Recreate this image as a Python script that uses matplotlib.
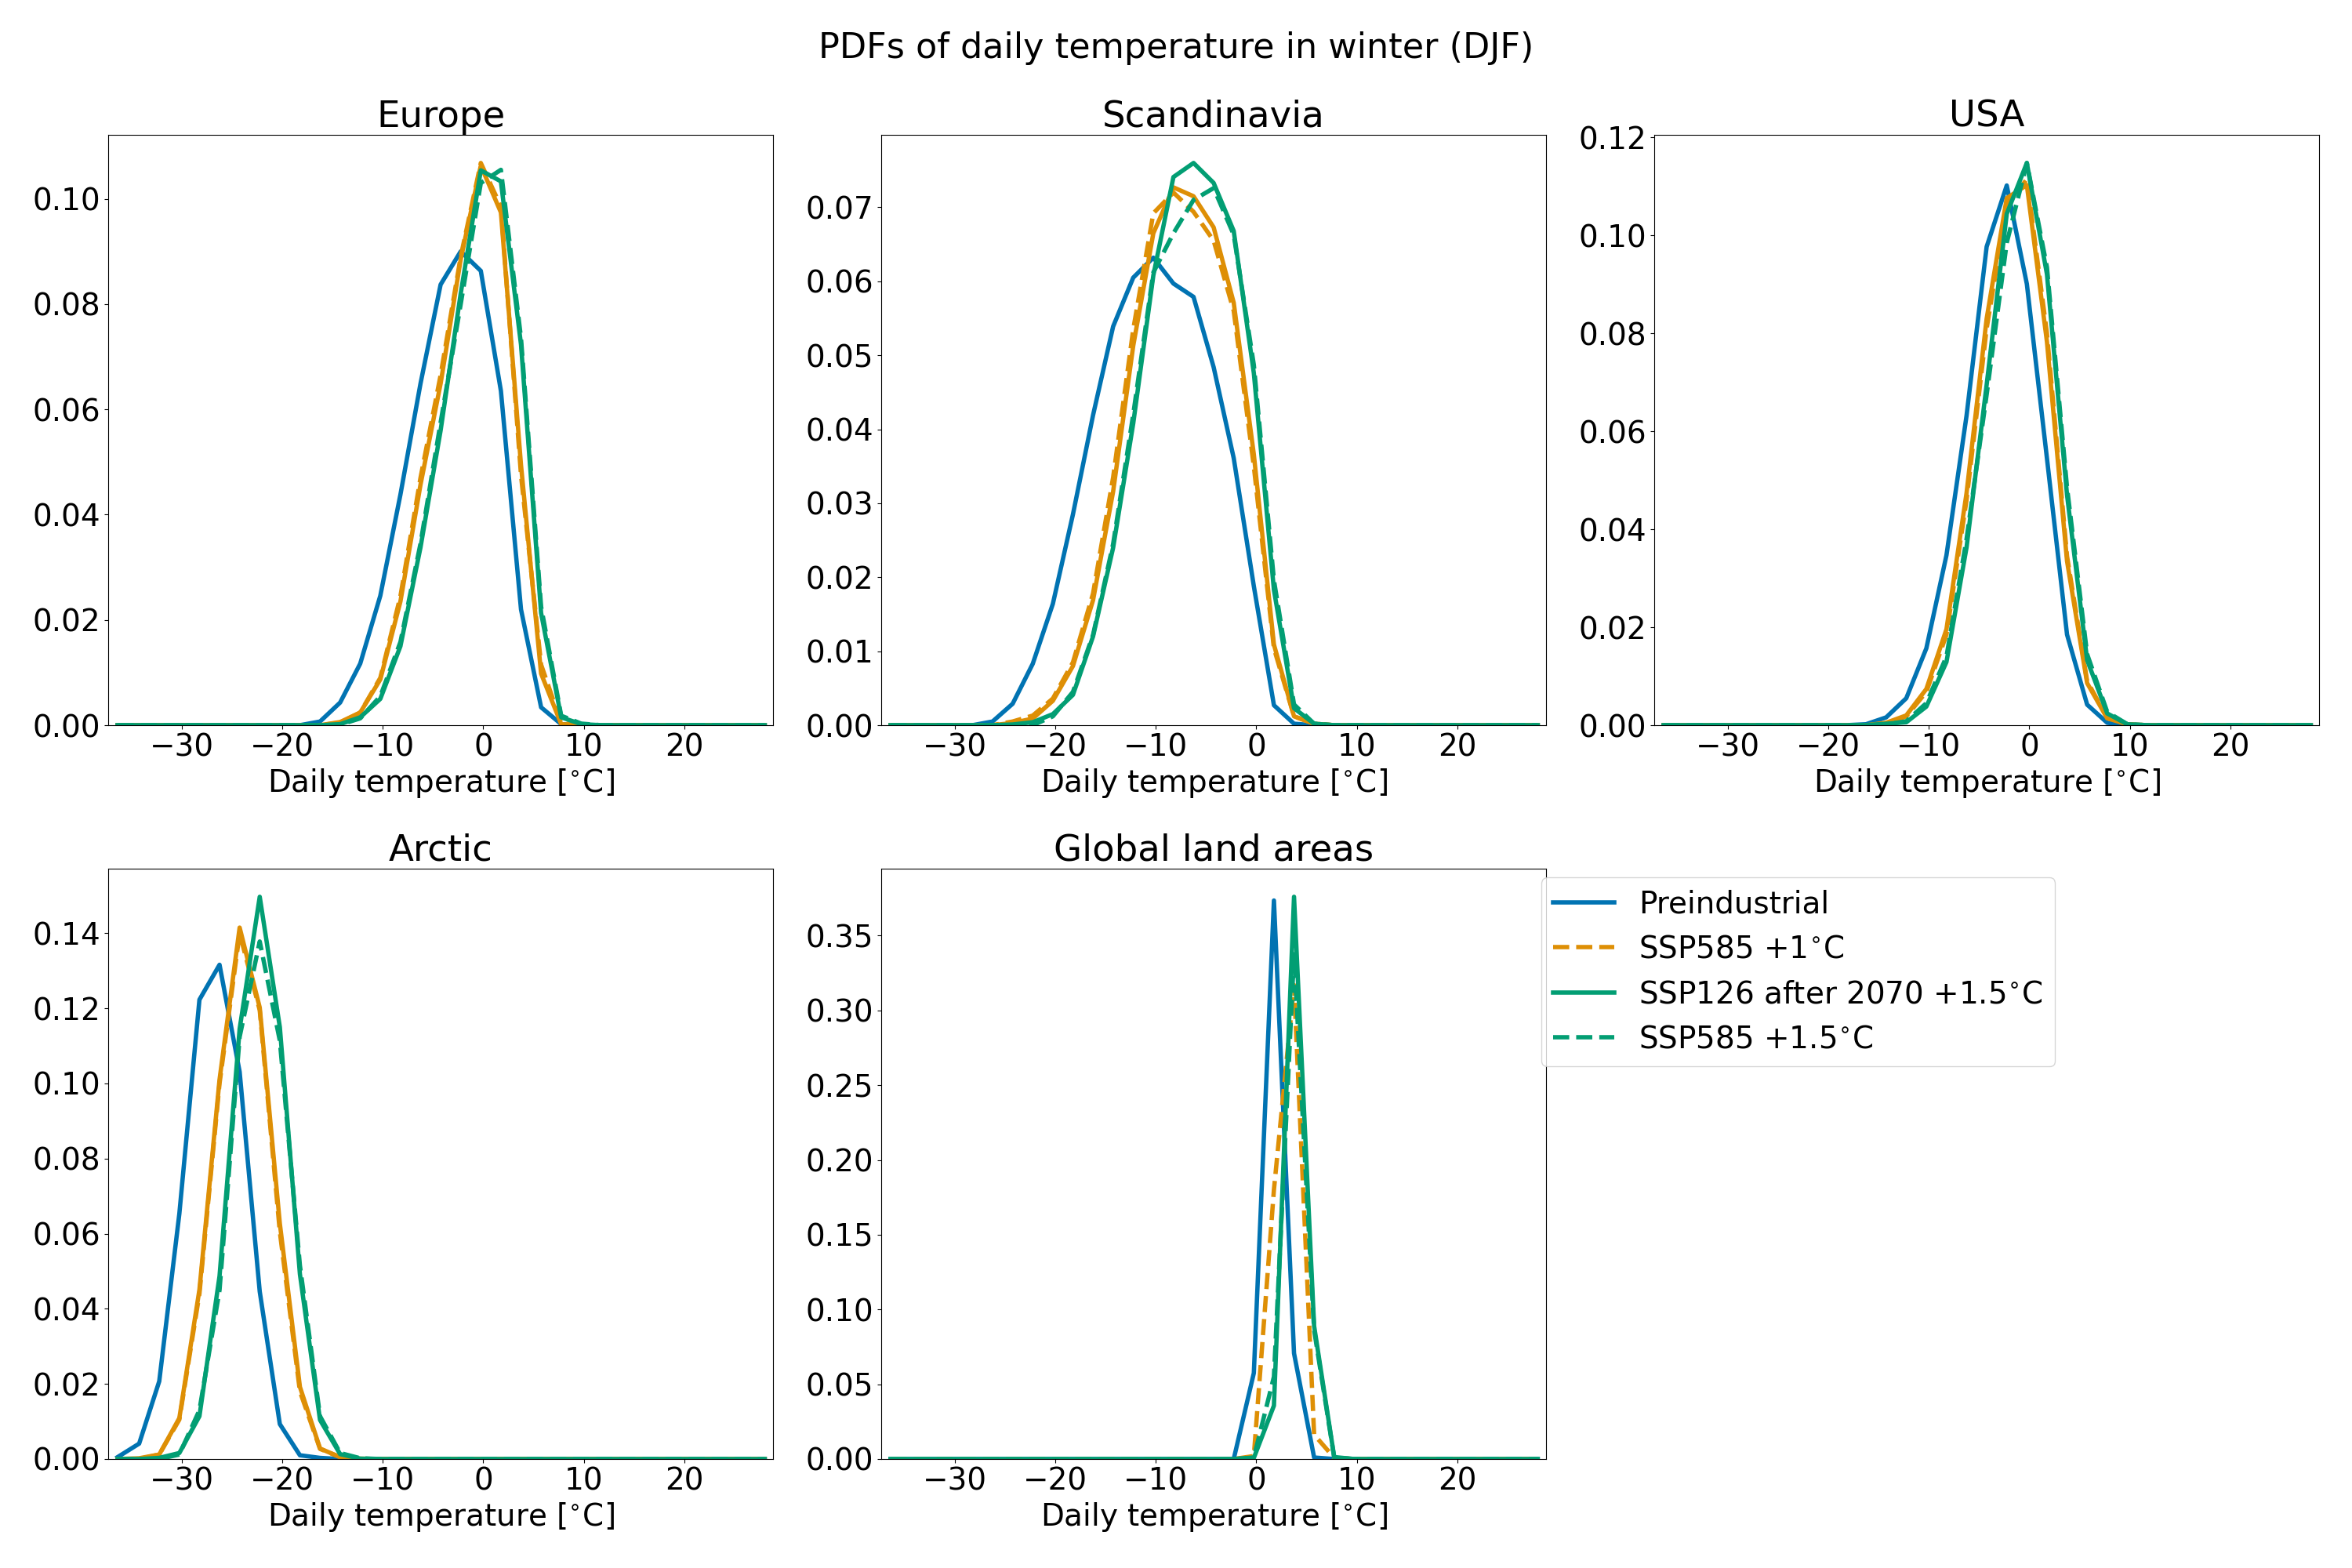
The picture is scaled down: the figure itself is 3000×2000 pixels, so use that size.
import numpy as np
import matplotlib
matplotlib.use('Agg')
import matplotlib.pyplot as plt

plt.rcParams['font.size'] = 28

# temperature bin centres, every 2 degrees
x_bins = [-36.4, -34.25, -32.25, -30.25, -28.25, -26.25, -24.25, -22.25, -20.25, -18.25, -16.25,
          -14.25, -12.25, -10.25, -8.25, -6.25, -4.25, -2.25, -0.25, 1.75, 3.75, 5.75, 7.75, 9.75,
          11.75, 13.75, 15.75, 17.75, 19.75, 21.75, 23.75, 25.75, 28.0]

# each series: first bin that is not zero, then the values read from the picture
eu_pre = (-16.25, [.0007, .0043, .0117, .0246, .0438, .0649, .0837, .0900, .0863, .0635, .0220, .0034, .0002])
eu_585_1 = (-14.25, [.0005, .0024, .0090, .0245, .0470, .0665, .0890, .1068, .0985, .0475, .0115, .0004])
eu_126_1 = (-14.25, [.0006, .0024, .0087, .0235, .0457, .0649, .0885, .1063, .0974, .0494, .0098, .0002])
eu_126_15 = (-14.25, [.0002, .0015, .0050, .0150, .0338, .0560, .0820, .1054, .1033, .0723, .0213, .0015, .0002])
eu_585_15 = (-14.25, [.0001, .0013, .0055, .0158, .0345, .0575, .0800, .1030, .1055, .0735, .0225, .0018, .0003])

sc_pre = (-26.25, [.0005, .0029, .0083, .0164, .0285, .0419, .0539, .0605, .0632, .0597, .0579, .0484, .0361, .0188, .0027, .0002])
sc_585_1 = (-24.25, [.0005, .0013, .0036, .0085, .0178, .0335, .0535, .0692, .0720, .0694, .0655, .0560, .0350, .0104, .0012, .0002])
sc_126_1 = (-24.25, [.0003, .0009, .0033, .0080, .0169, .0316, .0513, .0665, .0727, .0715, .0673, .0571, .0366, .0109, .0012, .0002])
sc_126_15 = (-24.25, [.0001, .0004, .0015, .0041, .0120, .0240, .0408, .0608, .0741, .0760, .0733, .0668, .0476, .0183, .0023, .0002])
sc_585_15 = (-20.25, [.0012, .0045, .0122, .0245, .0420, .0612, .0665, .0710, .0726, .0663, .0487, .0196, .0028, .0002])

us_pre = (-16.25, [.0002, .0016, .0055, .0157, .0347, .0632, .0977, .1102, .0901, .0545, .0185, .0042, .0005])
us_585_1 = (-14.25, [.0004, .0018, .0068, .0185, .0460, .0810, .1060, .1115, .0800, .0345, .0090, .0015, .0002])
us_126_1 = (-14.25, [.0005, .0020, .0074, .0196, .0474, .0830, .1076, .1103, .0783, .0335, .0086, .0014, .0002])
us_126_15 = (-14.25, [.0003, .0006, .0038, .0129, .0363, .0695, .1044, .1148, .0921, .0470, .0133, .0024, .0002])
us_585_15 = (-14.25, [.0002, .0008, .0045, .0140, .0380, .0675, .0985, .1148, .0935, .0485, .0145, .0027, .0002])

ar_pre = (-36.4, [.0005, .0041, .0207, .0653, .1223, .1316, .1031, .0446, .0093, .0010, .0003])
ar_585_1 = (-32.25, [.0012, .0105, .0440, .1000, .1400, .1195, .0605, .0180, .0027, .0005])
ar_126_1 = (-34.25, [.0002, .0012, .0109, .0451, .1010, .1415, .1202, .0627, .0192, .0028, .0005, .0001])
ar_126_15 = (-32.25, [.0003, .0016, .0114, .0487, .1145, .1497, .1150, .0492, .0104, .0013, .0001])
ar_585_15 = (-30.25, [.0012, .0130, .0450, .1124, .1378, .1114, .0515, .0114, .0016, .0002])

gl_pre = (-0.25, [.0575, .3735, .0707, .0010])
gl_585_1 = (-0.25, [.0020, .1800, .3170, .0163, .0008])
gl_126_15 = (-0.25, [.0007, .0357, .3760, .0889, .0013])
gl_585_15 = (-0.25, [.0010, .0550, .3376, .0863, .0010])

titles = ['Europe', 'Scandinavia', 'USA', 'Arctic', 'Global land areas']
panels = [
    [eu_pre, eu_585_1, eu_126_1, eu_126_15, eu_585_15],
    [sc_pre, sc_585_1, sc_126_1, sc_126_15, sc_585_15],
    [us_pre, us_585_1, us_126_1, us_126_15, us_585_15],
    [ar_pre, ar_585_1, ar_126_1, ar_126_15, ar_585_15],
    [gl_pre, gl_585_1, None, gl_126_15, gl_585_15],
]
labels = ['Preindustrial', 'SSP585 +1$^{\\circ}$C', None, 'SSP126 after 2070 +1.5$^{\\circ}$C', 'SSP585 +1.5$^{\\circ}$C']
colors = ['#0173b2', '#de8f05', '#de8f05', '#029e73', '#029e73']
styles = ['-', '--', '-', '-', '--']


def full_series(series):
    out = np.zeros(len(x_bins))
    start = x_bins.index(series[0])
    out[start:start + len(series[1])] = series[1]
    return out


fig, axes = plt.subplots(2, 3, figsize=(30, 20), dpi=100)
fig.subplots_adjust(left=.046, right=.986, top=.914, bottom=.0695, wspace=.1627, hspace=.243)
fig.suptitle('PDFs of daily temperature in winter (DJF)', fontsize=32, x=.5, y=.98)

for ax, title, panel in zip(axes.flat, titles, panels):
    for series, label, color, style in zip(panel, labels, colors, styles):
        if series is None:
            continue
        ax.plot(x_bins, full_series(series), color=color, linestyle=style, linewidth=4, label=label)
    ax.set_title(title, fontsize=33.6)
    ax.set_xlabel('Daily temperature [$^{\\circ}$C]', fontsize=28)
    ax.set_xlim(-37.33, 28.83)
    ax.set_xticks([-30, -20, -10, 0, 10, 20])
    ax.tick_params(labelsize=28)
    ax.set_ylim(bottom=0)

axes[1, 2].axis('off')
handles, leg_labels = axes[1, 1].get_legend_handles_labels()
fig.legend(handles, leg_labels, loc='upper left', bbox_to_anchor=(.6553, .4405), borderaxespad=0, fontsize=28)

plt.savefig('out.png')
